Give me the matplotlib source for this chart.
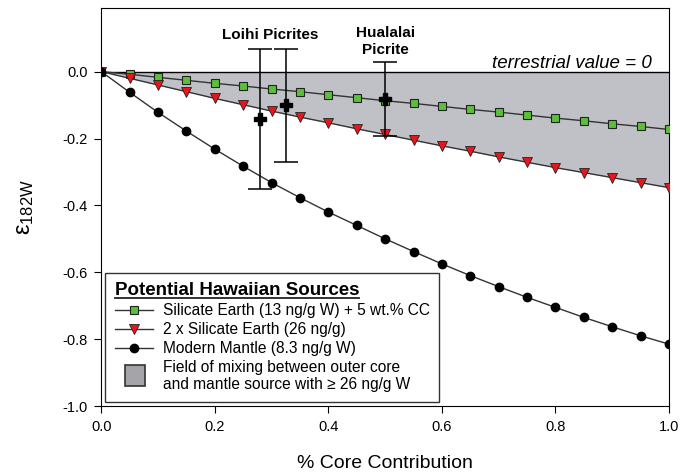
import matplotlib.pyplot as plt
from matplotlib.patches import Patch, Rectangle
from matplotlib.lines import Line2D
from matplotlib.legend_handler import HandlerPatch

plt.rcParams['font.family'] = ['Liberation Sans', 'DejaVu Sans']

core = [0.0, 0.05, 0.1, 0.15, 0.2, 0.25, 0.3, 0.35, 0.4, 0.45, 0.5,
        0.55, 0.6, 0.65, 0.7, 0.75, 0.8, 0.85, 0.9, 0.95, 1.0]
silicate_cc = [0.0, -0.008, -0.017, -0.026, -0.035, -0.043, -0.052, -0.060, -0.069, -0.078, -0.087,
               -0.095, -0.104, -0.113, -0.121, -0.130, -0.139, -0.147, -0.156, -0.164, -0.173]
silicate_2x = [0.0, -0.020, -0.040, -0.060, -0.080, -0.099, -0.118, -0.136, -0.153, -0.171, -0.188,
               -0.205, -0.222, -0.238, -0.255, -0.271, -0.287, -0.302, -0.317, -0.332, -0.347]
modern_mantle = [0.0, -0.062, -0.122, -0.178, -0.232, -0.283, -0.332, -0.377, -0.420, -0.460, -0.500,
                 -0.538, -0.575, -0.610, -0.643, -0.675, -0.705, -0.735, -0.763, -0.790, -0.815]

sample_x = [0.279, 0.325, 0.499]
sample_y = [-0.141, -0.101, -0.081]
sample_err = [0.209, 0.170, 0.111]

labels = ["Silicate Earth (13 ng/g W) + 5 wt.% CC",
          "2 x Silicate Earth (26 ng/g)",
          "Modern Mantle (8.3 ng/g W)",
          "Field of mixing between outer core\nand mantle source with \u2265 26 ng/g W"]


def tall_box(legend, orig_handle, xdescent, ydescent, width, height, fontsize):
    w, h = 14.5, 15.0
    return Rectangle((width / 2 - w / 2 - xdescent + 1, height / 2 - h / 2 - ydescent + 1), w, h)


fig = plt.figure(figsize=(6.94, 4.76), dpi=100)
ax = fig.add_axes([0.146, 0.147, 0.818, 0.836])

ax.fill_between(core, silicate_2x, 0, color='#c0c1c6', lw=0, zorder=1)
ax.axhline(0, color='black', lw=1.0, zorder=2)

l1, = ax.plot(core, silicate_cc, color='#333333', lw=1, marker='s', ms=6,
              mfc='#5cbf3a', mec='#222222', mew=0.8, zorder=4)
l2, = ax.plot(core, silicate_2x, color='#333333', lw=1, marker='v', ms=6.5,
              mfc='#e8161b', mec='#222222', mew=0.6, zorder=4)
l3, = ax.plot(core, modern_mantle, color='#333333', lw=1, marker='o', ms=6,
              mfc='black', mec='black', zorder=4)

ax.errorbar(sample_x, sample_y, yerr=sample_err, fmt='P', ms=8.5, color='black',
            ecolor='black', elinewidth=1.1, capsize=8.5, capthick=1.1, zorder=5)

ax.text(0.2975, 0.111, "Loihi Picrites", ha='center', va='center',
        fontsize=11, fontweight='bold')
ax.text(0.5, 0.09, "Hualalai\nPicrite", ha='center', va='center',
        fontsize=11, fontweight='bold', linespacing=1.25)
ax.text(0.970, 0.012, "terrestrial value = 0", ha='right', va='baseline',
        fontsize=13.5, fontstyle='italic')

ax.set_xlim(0, 1.0)
ax.set_ylim(-1.0, 0.19)
ax.set_xticks([0.0, 0.2, 0.4, 0.6, 0.8, 1.0])
ax.set_yticks([-1.0, -0.8, -0.6, -0.4, -0.2, 0.0])
ax.set_xticklabels(['0.0', '0.2', '0.4', '0.6', '0.8', '1.0'])
ax.set_yticklabels(['-1.0', '-0.8', '-0.6', '-0.4', '-0.2', '0.0'])
ax.tick_params(direction='out', length=5, labelsize=10.5, width=0.8, pad=5)
for s in ax.spines.values():
    s.set_linewidth(0.8)

ax.set_xlabel("% Core Contribution", fontsize=14, labelpad=15)
ax.set_ylabel("$\\mathregular{\u03b5_{182W}}$", fontsize=17, labelpad=19)

patch = Patch(facecolor='#a4a4a9', edgecolor='#333333', lw=1.2)
leg = ax.legend([l1, l2, l3, patch], labels, loc='lower left',
                bbox_to_anchor=(0.007, 0.011), fontsize=11.2,
                title="Potential Hawaiian Sources", alignment='left',
                title_fontproperties={'weight': 'bold', 'size': 13.5},
                fancybox=False, edgecolor='#333333', framealpha=1,
                handlelength=2.45, handletextpad=0.65, labelspacing=0.25,
                borderpad=0.6, borderaxespad=0,
                handler_map={Patch: HandlerPatch(patch_func=tall_box)})
leg.get_frame().set_linewidth(1.0)

# underline the legend title
fig.canvas.draw()
bb = leg.get_title().get_window_extent().transformed(fig.transFigure.inverted())
fig.add_artist(Line2D([bb.x0, bb.x1], [bb.y0 + 0.002, bb.y0 + 0.002],
                      color='#222222', lw=1.3, transform=fig.transFigure))

fig.savefig("out.png", dpi=100)
